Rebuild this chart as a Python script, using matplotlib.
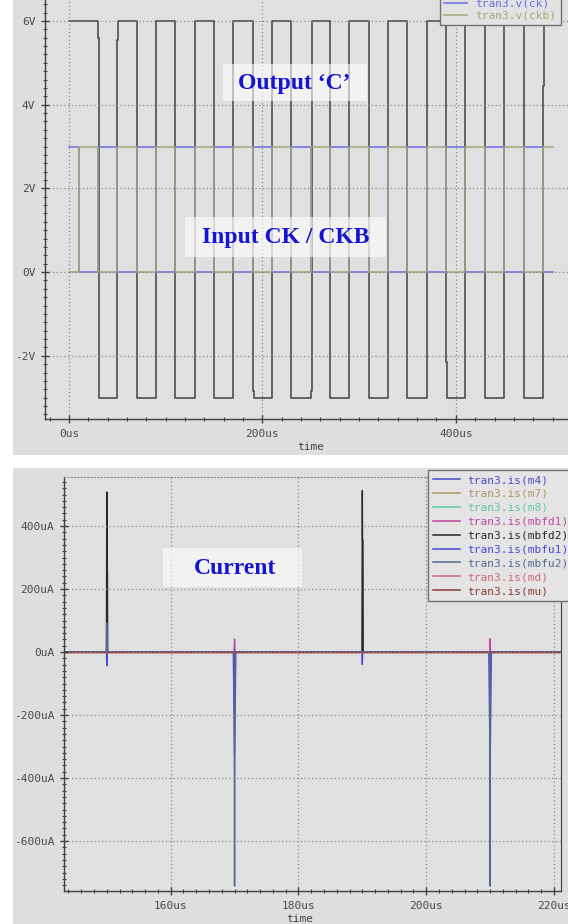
import numpy as np
import matplotlib
matplotlib.use('Agg')
import matplotlib.pyplot as plt
from matplotlib.patches import Rectangle
from matplotlib.lines import Line2D
from matplotlib.ticker import MultipleLocator, FuncFormatter

# ---------------- data: top panel (time in us, voltage in V) ----------------
sim_start_us = 0
sim_end_us = 500
ck_rise_us = [30, 70, 110, 150, 190, 230, 270, 310, 350, 390, 430, 470]
ck_fall_us = [10, 50, 90, 130, 170, 210, 250, 290, 330, 370, 410, 450, 490]
ck_high_v = 3.0
ck_low_v = 0.0
c_fall_us = [30, 70, 110, 150, 190, 230, 270, 310, 350, 390, 430, 470]
c_rise_us = [50, 90, 130, 170, 210, 250, 290, 330, 370, 410, 450, 490]
c_high_v = 6.0
c_low_v = -3.0
c_glitch_us = [30, 50, 190, 250, 390, 490]
c_glitch_v = [5.6, 5.55, -2.85, -2.85, -2.15, 4.45]
top_labels = ['tran3.v(c)', 'tran3.v(ck)', 'tran3.v(ckb)']

# ---------------- data: bottom panel (time in us, current in uA) ----------------
win_start_us = 140
win_end_us = 225
spike_us = [150, 170, 190, 210]
is_m4 = [-44, 0, -40, 0]
is_m7 = [0, 0, 0, 0]
is_m8 = [0, 25, 0, 25]
is_mbfd1 = [0, 41, 0, 42]
is_mbfd2 = [508, 0, 512, 0]
is_mbfd2_shoulder = [260, 0, 355, 0]
is_mbfu1 = [0, -330, 0, -362]
is_mbfu2 = [92, -743, 0, -743]
is_md = [0, 0, 0, 0]
is_mu = [0, 0, 0, 0]
bottom_names = ['m4', 'm7', 'm8', 'mbfd1', 'mbfd2', 'mbfu1', 'mbfu2', 'md', 'mu']

# ---------------- styling ----------------
W, H, DPI = 568, 924, 100
PANEL = '#dedede'
AXBG = '#e0e0e0'
GRID = '#8a8a8a'
TXT = '#4a4a4a'
C_COL = '#4e4e4e'
CK_COL = '#6b6be6'
CKB_COL = '#a6a674'
BOT_COLS = ['#4a4ac8', '#a89868', '#5cc8a8', '#c048a0', '#282828',
            '#4848d8', '#506890', '#d06878', '#8a3838']
LABEL_BLUE = '#1414d2'

plt.rcParams['font.family'] = ['DejaVu Sans Mono', 'DejaVu Sans']


def px_rect(x0, y0, x1, y1):
    return [x0 / W, 1 - y1 / H, (x1 - x0) / W, (y1 - y0) / H]


def square_wave(t0, t1, level0, rises, falls, hi, lo, g_t=(), g_v=(), dt=0.8):
    edges = sorted([(t, hi) for t in rises] + [(t, lo) for t in falls])
    gl = dict(zip(g_t, g_v))
    ts, vs, cur = [t0], [level0], level0
    for t, new in edges:
        ts.append(t); vs.append(cur)
        if t in gl:
            ts += [t, t + dt]; vs += [gl[t], gl[t]]
            t = t + dt
        ts.append(t); vs.append(new)
        cur = new
    ts.append(t1); vs.append(cur)
    return np.array(ts), np.array(vs)


def spike_wave(t0, t1, times, peaks, width, shoulder=None):
    ts, vs = [t0], [0.0]
    for i, (t, p) in enumerate(zip(times, peaks)):
        if p == 0:
            continue
        if shoulder is not None and shoulder[i] != 0:
            s = shoulder[i]
            ts += [t - 0.06, t, t + 0.03, t + 0.1, t + 0.14]
            vs += [0, p, s, s, 0]
        else:
            ts += [t - width / 2, t, t + width / 2]
            vs += [0, p, 0]
    ts.append(t1); vs.append(0.0)
    return np.array(ts), np.array(vs)


fig = plt.figure(figsize=(W / DPI, H / DPI), dpi=DPI, facecolor='white')
fig.patches.append(Rectangle((13 / W, 1 - 455 / H), (W - 13) / W, 455 / H,
                             transform=fig.transFigure, facecolor=PANEL,
                             edgecolor='none', zorder=-10))
fig.patches.append(Rectangle((13 / W, 0), (W - 13) / W, (H - 468) / H,
                             transform=fig.transFigure, facecolor=PANEL,
                             edgecolor='none', zorder=-10))


def style_axes(ax, xmaj, xmin, ymaj, ymin, xfmt, yfmt):
    ax.set_facecolor(AXBG)
    ax.xaxis.set_major_locator(MultipleLocator(xmaj))
    ax.xaxis.set_minor_locator(MultipleLocator(xmin))
    ax.yaxis.set_major_locator(MultipleLocator(ymaj))
    ax.yaxis.set_minor_locator(MultipleLocator(ymin))
    ax.xaxis.set_major_formatter(FuncFormatter(xfmt))
    ax.yaxis.set_major_formatter(FuncFormatter(yfmt))
    ax.tick_params(which='major', direction='inout', length=6, width=1,
                   color='#404040', labelsize=8, labelcolor=TXT, pad=4)
    ax.tick_params(which='minor', direction='inout', length=3, width=0.8,
                   color='#404040')
    ax.grid(True, which='major', linestyle=(0, (1, 2)), color=GRID, lw=0.9)
    ax.set_axisbelow(False)
    for s in ('left', 'bottom'):
        ax.spines[s].set_color('#404040')
        ax.spines[s].set_linewidth(1)


# ---------------- top panel ----------------
ax1 = fig.add_axes(px_rect(45, 0, 568, 419))
style_axes(ax1, 200, 20, 2, 0.2,
           lambda v, p: f'{v:.0f}us', lambda v, p: f'{v:.0f}V')
ax1.spines['top'].set_visible(False)
ax1.spines['right'].set_visible(False)

tc, vc = square_wave(sim_start_us, sim_end_us, c_high_v, c_rise_us, c_fall_us,
                     c_high_v, c_low_v, c_glitch_us, c_glitch_v)
tk, vk = square_wave(sim_start_us, sim_end_us, ck_high_v, ck_rise_us, ck_fall_us,
                     ck_high_v, ck_low_v)
tkb, vkb = square_wave(sim_start_us, sim_end_us, ck_low_v, ck_fall_us, ck_rise_us,
                       ck_high_v, ck_low_v)
ax1.plot(tc, vc, color=C_COL, lw=1.2, zorder=2)
ax1.plot(tk, vk, color=CK_COL, lw=1.1, zorder=2)
ax1.plot(tkb, vkb, color=CKB_COL, lw=1.1, zorder=2)
ax1.set_xlim(-24.8, 516)
ax1.set_ylim(-3.51, 6.50)

h1 = [Line2D([], [], color=c, lw=1.1) for c in (C_COL, CK_COL, CKB_COL)]
ax1.legend(h1, top_labels, loc='lower left', bbox_to_anchor=(440 / W, 1 - 25 / H),
           bbox_transform=fig.transFigure, borderaxespad=0, fancybox=False,
           edgecolor='#707070', facecolor='#e2e2e2', framealpha=1, fontsize=8,
           handlelength=2.0, handletextpad=0.8, labelspacing=0.15,
           labelcolor='linecolor', borderpad=0.4)
fig.text(311 / W, 1 - 447 / H, 'time', ha='center', va='center', fontsize=8,
         color='#404040')

# ---------------- bottom panel ----------------
ax2 = fig.add_axes(px_rect(64, 477, 561, 891))
style_axes(ax2, 20, 2, 200, 20,
           lambda v, p: f'{v:.0f}us', lambda v, p: f'{v:.0f}uA')
ax2.spines['top'].set_linestyle((0, (1, 2)))
ax2.spines['top'].set_color(GRID)
ax2.spines['right'].set_color('#404040')

series = [is_m4, is_m7, is_m8, is_mbfd1, is_mbfd2, is_mbfu1, is_mbfu2, is_md, is_mu]
for name, vals, col in zip(bottom_names, series, BOT_COLS):
    width = 0.4 if name == 'mbfu1' else 0.12
    sh = is_mbfd2_shoulder if name == 'mbfd2' else None
    t, v = spike_wave(win_start_us, win_end_us, spike_us, vals, width, sh)
    ax2.plot(t, v, color=col, lw=1.0, zorder=2)
ax2.set_xlim(143.3, 221.1)
ax2.set_ylim(-758.7, 555.6)

h2 = [Line2D([], [], color=c, lw=1.1) for c in BOT_COLS]
ax2.legend(h2, [f'tran3.is({n})' for n in bottom_names], loc='upper left',
           bbox_to_anchor=(428 / W, 1 - 470 / H), bbox_transform=fig.transFigure,
           borderaxespad=0, fancybox=False, edgecolor='#707070',
           facecolor='#e4e4e4', framealpha=1, fontsize=8, handlelength=2.4,
           handletextpad=0.7, labelspacing=0.35, labelcolor='linecolor',
           borderpad=0.45)
fig.text(300 / W, 1 - 919 / H, 'time', ha='center', va='center', fontsize=8,
         color='#404040')

# ---------------- annotation boxes ----------------
for (x0, y0, x1, y1) in [(223, 64, 367, 101), (185, 217, 386, 257),
                         (163, 548, 302, 587)]:
    fig.patches.append(Rectangle((x0 / W, 1 - y1 / H), (x1 - x0) / W, (y1 - y0) / H,
                                 transform=fig.transFigure, facecolor='white',
                                 alpha=0.6, edgecolor='none', zorder=5))
for (x, y, s) in [(294.5, 84, 'Output \u2018C\u2019'), (285.5, 237, 'Input CK / CKB'),
                  (235.5, 569, 'Current')]:
    fig.text(x / W, 1 - y / H, s, ha='center', va='center', fontsize=17,
             fontweight='bold', family=['Liberation Serif', 'DejaVu Serif'],
             color=LABEL_BLUE, zorder=6)

fig.savefig('out.png', dpi=DPI, facecolor='white')
